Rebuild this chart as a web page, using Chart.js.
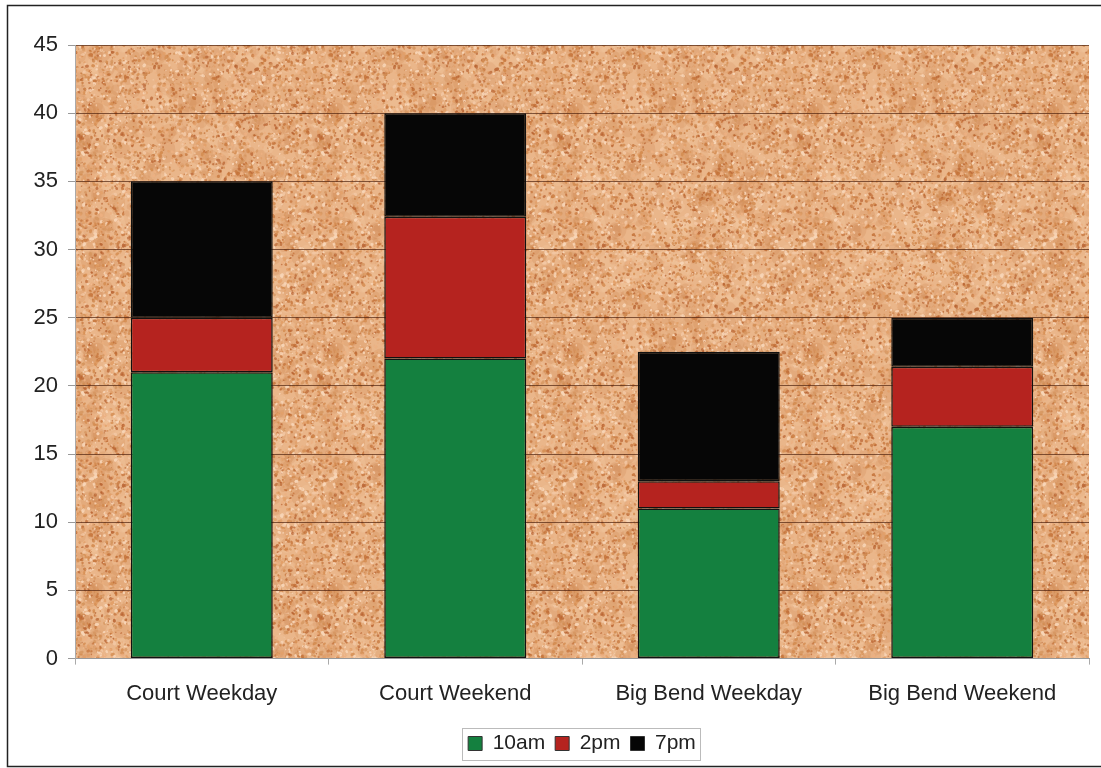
<!DOCTYPE html>
<html>
<head>
<meta charset="utf-8">
<script src="https://cdn.jsdelivr.net/npm/chart.js@4/dist/chart.umd.min.js"></script>
<style>
  html, body { margin: 0; padding: 0; background: #fff; }
  #wrap { position: relative; width: 1101px; height: 768px; }
  canvas { display: block; }
</style>
</head>
<body>
<div id="wrap"><canvas id="chart" width="1101" height="768"></canvas></div>
<script>
// Visitor counts by site and time of day
const categories = ['Court Weekday', 'Court Weekend', 'Big Bend Weekday', 'Big Bend Weekend'];
const seriesNames = ['10am', '2pm', '7pm'];
const am10 = [21, 22, 11, 17];
const pm2 = [4, 10.4, 2, 4.4];
const pm7 = [10, 7.6, 9.5, 3.6];
const yTicks = [0, 5, 10, 15, 20, 25, 30, 35, 40, 45];

const FONT = '"Liberation Sans", Arial, sans-serif';
const FONT_SIZE = 22;

// Cork-board texture for the plot background (deterministic speckle)
function makeCorkPattern(ctx) {
  const size = 240;
  const c = document.createElement('canvas');
  c.width = size; c.height = size;
  const g = c.getContext('2d');
  g.fillStyle = '#EAB68A';
  g.fillRect(0, 0, size, size);
  let s = 1234567;
  const next = () => { s = (s * 1103515245 + 12345) & 0x7fffffff; return s / 0x7fffffff; };
  const blob = (x, y, rx, ry, rot) => {
    for (const dx of [-size, 0, size]) {
      for (const dy of [-size, 0, size]) {
        const px = x + dx, py = y + dy;
        if (px < -rx - 2 || px > size + rx + 2 || py < -rx - 2 || py > size + rx + 2) continue;
        g.beginPath();
        g.ellipse(px, py, rx, ry, rot, 0, Math.PI * 2);
        g.fill();
      }
    }
  };
  // soft mottling
  const mottle = ['rgba(205,130,70,0.2)', 'rgba(245,205,170,0.22)', 'rgba(190,110,55,0.16)'];
  for (let i = 0; i < 500; i++) {
    g.fillStyle = mottle[Math.floor(next() * mottle.length)];
    const r = 3 + next() * 6;
    blob(next() * size, next() * size, r * (0.7 + next() * 0.8), r, next() * Math.PI);
  }
  // fine grain
  const palette = [
    'rgba(212,138,78,0.55)', 'rgba(198,116,58,0.5)', 'rgba(226,160,105,0.6)',
    'rgba(248,214,184,0.7)', 'rgba(242,200,165,0.65)', 'rgba(180,92,42,0.42)',
    'rgba(236,176,130,0.6)', 'rgba(214,150,95,0.55)'
  ];
  for (let i = 0; i < 11000; i++) {
    const r = 0.5 + next() * 1.1;
    g.fillStyle = palette[Math.floor(next() * palette.length)];
    blob(next() * size, next() * size, r * (0.8 + next() * 0.8), r, next() * Math.PI);
  }
  return ctx.createPattern(c, 'repeat');
}

const corkBackground = {
  id: 'corkBackground',
  beforeDraw(chart) {
    const { ctx, chartArea: a } = chart;
    if (!chart._cork) chart._cork = makeCorkPattern(ctx);
    ctx.save();
    ctx.fillStyle = chart._cork;
    ctx.fillRect(a.left, a.top, a.right - a.left, a.bottom - a.top);
    ctx.restore();
  }
};

// Centre the legend under the plot area rather than the whole canvas
const legendUnderPlot = {
  id: 'legendUnderPlot',
  afterLayout(chart) {
    const lg = chart.legend, a = chart.chartArea;
    if (!lg || !a) return;
    const shift = (a.left + a.right) / 2 - (lg.left + lg.right) / 2;
    lg.left += shift;
    lg.right += shift;
  }
};

const frameAndLegendBox = {
  id: 'frameAndLegendBox',
  afterDraw(chart) {
    const { ctx } = chart;
    ctx.save();
    // outer chart frame
    ctx.strokeStyle = '#222';
    ctx.lineWidth = 1.5;
    ctx.strokeRect(7.5, 5.5, 1100, 761);
    // legend border around the items
    const boxes = chart.legend.legendHitBoxes || [];
    if (boxes.length) {
      const l = Math.min(...boxes.map(b => b.left)) - 6;
      const r = Math.max(...boxes.map(b => b.left + b.width)) + 4;
      const cy = boxes[0].top + boxes[0].height / 2;
      ctx.strokeStyle = '#bbb';
      ctx.lineWidth = 1;
      ctx.strokeRect(Math.round(l) + 0.5, Math.round(cy - 16) + 0.5, Math.round(r - l), 32);
    }
    ctx.restore();
  }
};

const colors = ['#14803F', '#B5231F', '#060606'];
const values = [am10, pm2, pm7];

new Chart(document.getElementById('chart'), {
  type: 'bar',
  data: {
    labels: categories,
    datasets: seriesNames.map((name, i) => ({
      label: name,
      data: values[i],
      backgroundColor: colors[i],
      borderColor: '#111',
      borderWidth: 1.5,
      borderSkipped: false,
      barPercentage: 0.56,
      categoryPercentage: 1.0
    }))
  },
  options: {
    responsive: false,
    animation: false,
    devicePixelRatio: 1,
    layout: { padding: { left: 0, right: 12, top: 45, bottom: 4 } },
    plugins: {
      tooltip: { enabled: false },
      legend: {
        position: 'bottom',
        labels: {
          font: { family: FONT, size: 21 },
          color: '#222',
          boxWidth: 14,
          boxHeight: 14,
          padding: 10,
          generateLabels(chart) {
            return chart.data.datasets.map((ds, i) => ({
              text: ds.label,
              fillStyle: ds.backgroundColor,
              strokeStyle: '#333',
              lineWidth: 1,
              datasetIndex: i,
              fontColor: '#222'
            }));
          }
        }
      }
    },
    scales: {
      x: {
        stacked: true,
        offset: true,
        grid: {
          offset: true,
          drawOnChartArea: false,
          drawTicks: true,
          tickLength: 6,
          tickColor: '#aaa'
        },
        border: { color: '#999', width: 1 },
        ticks: {
          font: { family: FONT, size: FONT_SIZE },
          color: '#222',
          padding: 16,
          maxRotation: 0
        }
      },
      y: {
        stacked: true,
        min: 0,
        max: 45,
        afterBuildTicks(scale) {
          scale.ticks = yTicks.map(v => ({ value: v }));
        },
        afterFit(scale) { scale.width = 75; },
        grid: {
          color: 'rgba(80,35,15,0.7)',
          lineWidth: 1,
          drawTicks: true,
          tickLength: 7,
          tickColor: '#999'
        },
        border: { color: '#aaa', width: 1 },
        ticks: {
          font: { family: FONT, size: FONT_SIZE },
          color: '#222',
          padding: 10
        }
      }
    }
  },
  plugins: [corkBackground, legendUnderPlot, frameAndLegendBox]
});
</script>
</body>
</html>
